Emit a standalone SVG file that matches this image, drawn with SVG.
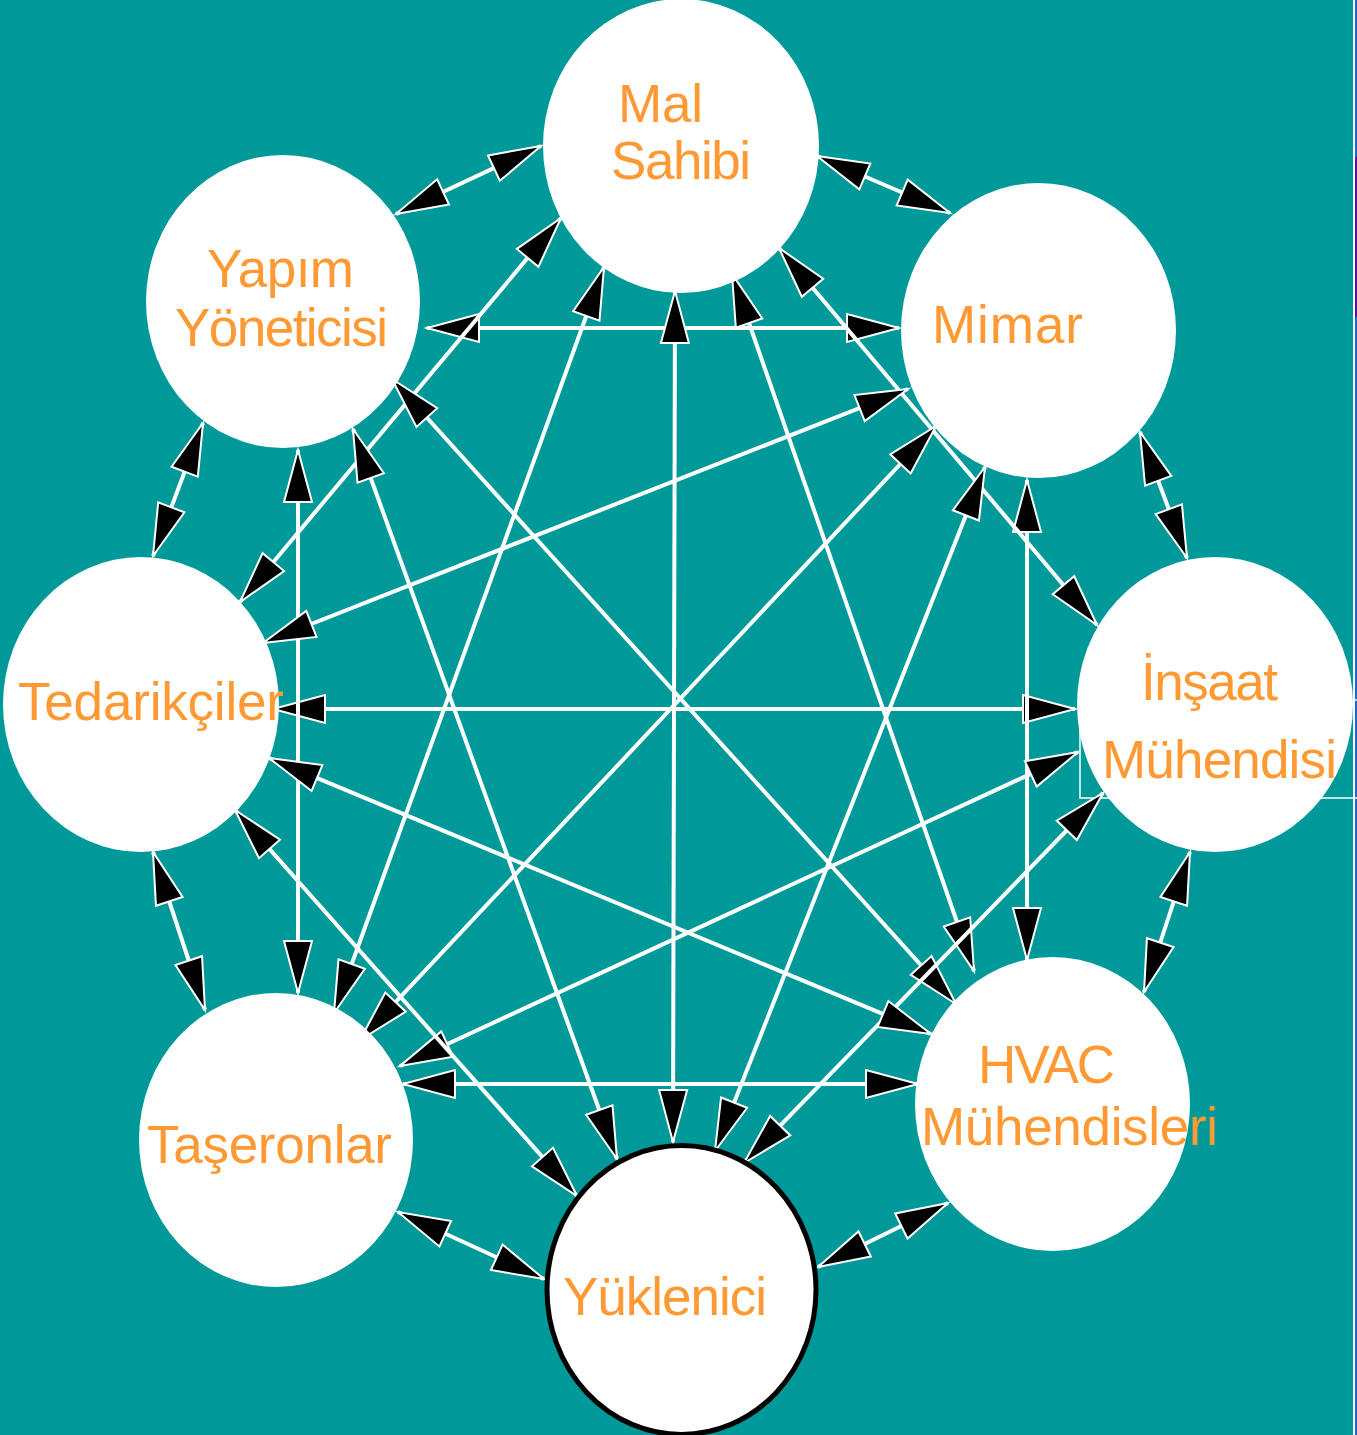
<svg xmlns="http://www.w3.org/2000/svg" width="1357" height="1435" viewBox="0 0 1357 1435">
<style>
.bg{fill:#009999}
.node{fill:#fff}
.lbl{fill:#FF9933;font-family:"Liberation Sans",Arial,sans-serif;font-size:53px}
.c line{stroke:#fff;stroke-width:4;marker-start:url(#ah);marker-end:url(#ah)}
</style>
<defs>
<marker id="ah" viewBox="-58 -18 64 36" markerWidth="64" markerHeight="36" refX="0" refY="0" orient="auto-start-reverse" markerUnits="userSpaceOnUse" overflow="visible">
<path d="M0,0 L-52,-14 L-52,14 Z" fill="#000" stroke="#fff" stroke-width="2"/>
</marker>
</defs>
<rect class="bg" x="0" y="0" width="1353" height="1435"/>
<rect x="1353" y="0" width="2" height="1435" fill="#fff"/>
<rect x="1355" y="0" width="2" height="1435" fill="#1a66d9"/>
<rect x="1355" y="157" width="2" height="160" fill="#5a10b0"/>
<rect x="1080" y="700" width="290" height="98" fill="none" stroke="#fff" stroke-width="1.5"/>
<g id="connectors" class="c">
<line x1="541" y1="146" x2="396" y2="214"/>
<line x1="817" y1="156" x2="950" y2="213"/>
<line x1="1140" y1="432" x2="1187" y2="558"/>
<line x1="1190" y1="852" x2="1144" y2="992"/>
<line x1="948" y1="1203" x2="818" y2="1267"/>
<line x1="544" y1="1279" x2="398" y2="1212"/>
<line x1="205" y1="1010" x2="153" y2="852"/>
<line x1="153" y1="556" x2="203" y2="423"/>
<line x1="427" y1="328" x2="899" y2="328"/>
<line x1="273" y1="709" x2="1075" y2="709"/>
<line x1="403" y1="1084" x2="918" y2="1084"/>
<line x1="298" y1="450" x2="298" y2="993"/>
<line x1="1027" y1="480" x2="1027" y2="960"/>
<line x1="675" y1="291" x2="673" y2="1142"/>
<line x1="561" y1="218" x2="240" y2="602"/>
<line x1="604" y1="267" x2="334" y2="1013"/>
<line x1="732" y1="274" x2="974" y2="971"/>
<line x1="779" y1="248" x2="1097" y2="625"/>
<line x1="392" y1="379" x2="956" y2="1004"/>
<line x1="353" y1="429" x2="617" y2="1159"/>
<line x1="908" y1="389" x2="263" y2="643"/>
<line x1="936" y1="426" x2="360" y2="1040"/>
<line x1="985" y1="467" x2="715" y2="1151"/>
<line x1="1078" y1="752" x2="400" y2="1066"/>
<line x1="1103" y1="793" x2="744" y2="1163"/>
<line x1="269" y1="758" x2="931" y2="1034"/>
<line x1="235" y1="810" x2="577" y2="1196"/>
</g>
<g id="mal-sahibi">
<ellipse class="node" cx="681" cy="146" rx="138" ry="147"/>
<text class="lbl" x="618" y="122" textLength="85">Mal</text>
<text class="lbl" x="611" y="179" textLength="140">Sahibi</text>
</g>
<g id="mimar">
<ellipse class="node" cx="1038.5" cy="330.5" rx="137.5" ry="147.5"/>
<text class="lbl" x="932" y="343" textLength="151">Mimar</text>
</g>
<g id="insaat-muhendisi">
<ellipse class="node" cx="1215" cy="704.5" rx="138" ry="147.5"/>
<text class="lbl" x="1141" y="700" textLength="137">İnşaat</text>
<text class="lbl" x="1102" y="778" textLength="235">Mühendisi</text>
</g>
<g id="hvac-muhendisleri">
<ellipse class="node" cx="1052.5" cy="1104" rx="137.5" ry="147"/>
<text class="lbl" x="978" y="1083" textLength="137">HVAC</text>
<text class="lbl" x="921" y="1145" textLength="297">Mühendisleri</text>
</g>
<g id="yuklenici">
<ellipse class="node" cx="681.5" cy="1290" rx="134.5" ry="144.5" stroke="#000" stroke-width="5"/>
<text class="lbl" x="563" y="1315" textLength="204">Yüklenici</text>
</g>
<g id="taseronlar">
<ellipse class="node" cx="276" cy="1140" rx="137" ry="147"/>
<text class="lbl" x="147" y="1163" textLength="245">Taşeronlar</text>
</g>
<g id="tedarikciler">
<ellipse class="node" cx="141" cy="704.5" rx="138" ry="147.5"/>
<text class="lbl" x="18" y="720" textLength="266">Tedarikçiler</text>
</g>
<g id="yapim-yoneticisi">
<ellipse class="node" cx="283" cy="301.5" rx="137" ry="146.5"/>
<text class="lbl" x="207" y="287" textLength="147">Yapım</text>
<text class="lbl" x="175" y="346" textLength="213">Yöneticisi</text>
</g>
</svg>
